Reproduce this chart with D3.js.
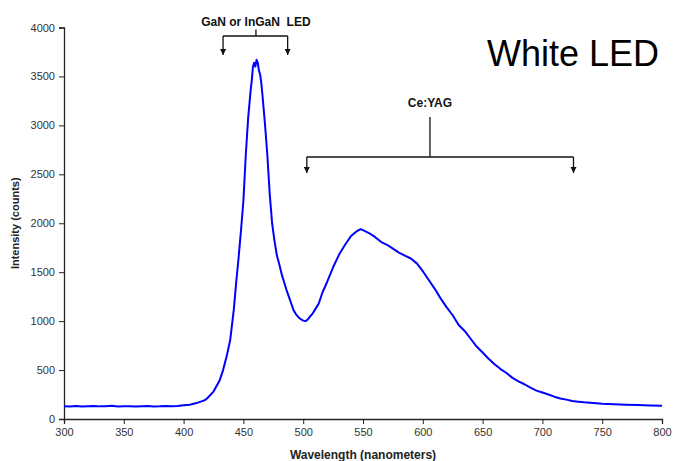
<!DOCTYPE html>
<html>
<head>
<meta charset="utf-8">
<script src="https://cdn.jsdelivr.net/npm/d3@7"></script>
<style>
  body { margin: 0; background: #fff; }
  svg { display: block; font-family: "Liberation Sans", Arial, sans-serif; }
</style>
</head>
<body>
<svg id="chart" width="676" height="461"></svg>
<script>
// spectrum (nm, counts)
const wavelengths = [
  300, 305, 310, 315, 320, 325, 330, 335, 340, 345, 350, 355, 360, 365, 370, 375, 380, 385, 390, 395, 400,
  405, 410, 415, 418, 420, 425, 430, 433, 436, 439, 442, 444, 446, 448, 450, 452, 454, 456, 457, 458, 459,
  460, 461, 462, 463, 464, 465, 466, 468, 470, 472, 474, 476, 478, 480, 482, 484, 486, 488, 490, 492, 494,
  496, 498, 500, 502, 504, 506, 508, 510, 513, 516, 520, 525, 530, 535, 540, 545, 548, 550, 555, 560, 565,
  570, 575, 580, 585, 590, 595, 600, 605, 610, 615, 620, 625, 630, 635, 640, 645, 650, 655, 660, 665, 670,
  675, 680, 685, 690, 695, 700, 705, 710, 715, 720, 725, 730, 735, 740, 745, 750, 760, 770, 780, 790, 800
];
const counts = [
  130, 128, 132, 127, 131, 134, 129, 130, 136, 128, 130, 131, 127, 129, 132, 128, 130, 134, 131, 133, 140,
  146, 160, 180, 194, 215, 280, 390, 500, 640, 810, 1120, 1400, 1650, 1930, 2230, 2700, 3080, 3350, 3460, 3600, 3640,
  3600, 3670, 3640, 3560, 3520, 3430, 3300, 3020, 2700, 2300, 2000, 1820, 1670, 1580, 1480, 1400, 1320, 1250, 1180, 1110, 1070,
  1040, 1020, 1005, 1000, 1020, 1050, 1080, 1120, 1180, 1290, 1400, 1550, 1680, 1780, 1870, 1920, 1940, 1930, 1900, 1860, 1810,
  1780, 1740, 1700, 1670, 1640, 1590, 1510, 1420, 1330, 1230, 1140, 1060, 960, 900, 820, 740, 680, 615, 560, 510, 470,
  420, 385, 355, 320, 290, 270, 250, 228, 210, 198, 183, 177, 170, 166, 160, 155, 150, 145, 142, 139, 135
];
const xTicks = [300, 350, 400, 450, 500, 550, 600, 650, 700, 750, 800];
const yTicks = [0, 500, 1000, 1500, 2000, 2500, 3000, 3500, 4000];

// bracket annotations: label, arrow wavelengths, stem wavelength, label/stem/bar/tip heights (counts)
const ganLabel = 'GaN or InGaN\u00a0\u00a0LED';
const ganArrows = [433, 487];
const ganStem = 460.5;
const ganLevels = { label: 4020, stemTop: 3980, bar: 3913, tip: 3719 };
const yagLabel = 'Ce:YAG';
const yagArrows = [503, 726];
const yagStem = 606;
const yagLevels = { label: 3190, stemTop: 3085, bar: 2677, tip: 2513 };

const margin = { top: 27.5, right: 14, bottom: 42, left: 64 };
const width = 676;
const height = 461;

const svg = d3.select('#chart');
const data = wavelengths.map((w, i) => ({ w, c: counts[i] }));

const x = d3.scaleLinear()
  .domain([300, 800])
  .range([margin.left, width - margin.right]);

const y = d3.scaleLinear()
  .domain([0, 4000])
  .range([height - margin.bottom, margin.top]);

// Add x-axis
const xAxis = svg.append('g')
  .attr('transform', `translate(0,${height - margin.bottom})`)
  .call(d3.axisBottom(x).tickValues(xTicks).tickFormat(d3.format('d')).tickSize(5).tickPadding(4));
xAxis.select('.domain').attr('stroke', '#222').attr('stroke-width', 1.3);
xAxis.selectAll('line').attr('stroke', '#222');
xAxis.selectAll('text').style('font-size', '11px').style('fill', '#333');

// Add y-axis
const yAxis = svg.append('g')
  .attr('transform', `translate(${margin.left},0)`)
  .call(d3.axisLeft(y).tickValues(yTicks).tickFormat(d3.format('d')).tickSize(5).tickPadding(4));
yAxis.select('.domain').attr('stroke', '#222').attr('stroke-width', 1.3);
yAxis.selectAll('line').attr('stroke', '#222');
yAxis.selectAll('text').style('font-size', '11px').style('fill', '#333');

// spectrum line
svg.append('path')
  .datum(data)
  .attr('fill', 'none')
  .attr('stroke', '#0000ff')
  .attr('stroke-width', 2)
  .attr('stroke-linejoin', 'round')
  .attr('d', d3.line().x(d => x(d.w)).y(d => y(d.c)));

// axis titles
svg.append('text')
  .attr('x', (margin.left + width - margin.right) / 2)
  .attr('y', 459)
  .attr('text-anchor', 'middle')
  .style('font-size', '12px')
  .style('font-weight', 'bold')
  .style('fill', '#222')
  .text('Wavelength (nanometers)');

svg.append('text')
  .attr('transform', `translate(19,${(margin.top + height - margin.bottom) / 2}) rotate(-90)`)
  .attr('text-anchor', 'middle')
  .style('font-size', '11px')
  .style('font-weight', 'bold')
  .style('fill', '#222')
  .text('Intensity (counts)');

// arrowhead
svg.append('defs').append('marker')
  .attr('id', 'arrow')
  .attr('viewBox', '0 0 10 10')
  .attr('refX', 10).attr('refY', 5)
  .attr('markerWidth', 5).attr('markerHeight', 5)
  .attr('orient', 'auto')
  .append('path')
  .attr('d', 'M0,0L10,5L0,10Z')
  .attr('fill', '#111');

function bracket(label, arrows, stem, lv) {
  const g = svg.append('g').attr('stroke', '#111').attr('stroke-width', 1.3).attr('fill', 'none');
  g.append('line')
    .attr('x1', x(stem)).attr('x2', x(stem))
    .attr('y1', y(lv.stemTop)).attr('y2', y(lv.bar));
  g.append('line')
    .attr('x1', x(arrows[0])).attr('x2', x(arrows[1]))
    .attr('y1', y(lv.bar)).attr('y2', y(lv.bar));
  arrows.forEach(a => {
    g.append('line')
      .attr('x1', x(a)).attr('x2', x(a))
      .attr('y1', y(lv.bar)).attr('y2', y(lv.tip))
      .attr('marker-end', 'url(#arrow)');
  });
  svg.append('text')
    .attr('x', x(stem))
    .attr('y', y(lv.label))
    .attr('text-anchor', 'middle')
    .style('font-size', '12px')
    .style('font-weight', 'bold')
    .style('fill', '#111')
    .text(label);
}

bracket(ganLabel, ganArrows, ganStem, ganLevels);
bracket(yagLabel, yagArrows, yagStem, yagLevels);

svg.append('text')
  .attr('x', 487)
  .attr('y', 66)
  .style('font-size', '36px')
  .style('fill', '#000')
  .text('White LED');
</script>
</body>
</html>
